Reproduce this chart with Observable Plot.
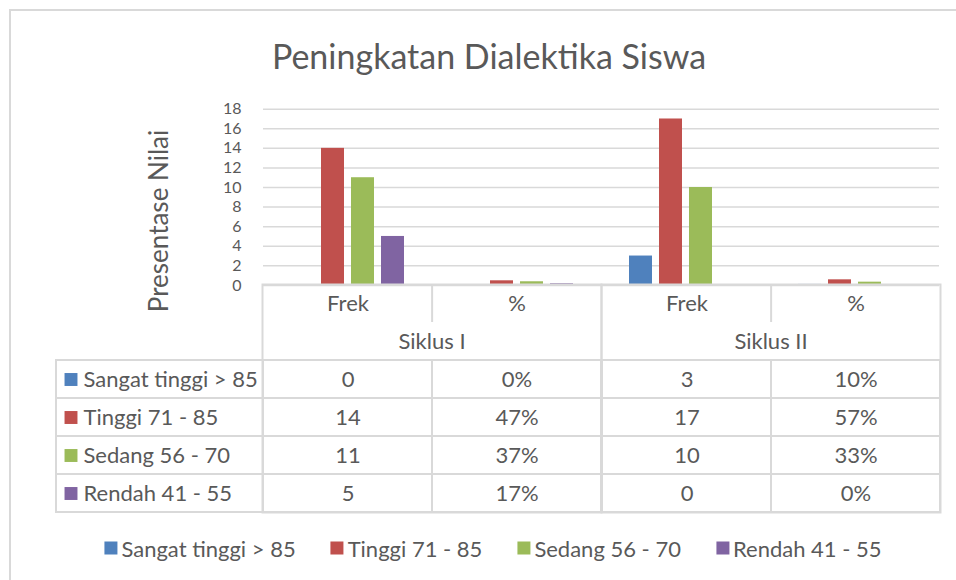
<!DOCTYPE html>
<html><head><meta charset="utf-8">
<script src="https://cdn.jsdelivr.net/npm/d3@7"></script>
<script src="https://cdn.jsdelivr.net/npm/@observablehq/plot@0.6"></script>
<style>
body{margin:0;background:#fff;}
#wrap{position:relative;width:956px;height:580px;overflow:hidden;font-family:Lato,sans-serif;color:#595959;background:#fff;}
#border{position:absolute;left:9px;top:9px;right:-10px;bottom:-10px;border-left:2px solid #d9d9d9;border-top:2px solid #d9d9d9;}
#title{position:absolute;left:489px;top:55px;transform:translate(-50%,-50%);font-size:34px;white-space:nowrap;}
#ytitle{position:absolute;left:158px;top:221px;transform:translate(-50%,-50%) rotate(-90deg);font-size:26px;white-space:nowrap;}
#chart{position:absolute;left:0;top:90px;}
#table{position:absolute;left:0;top:282px;}
#legend{position:absolute;left:493px;top:548px;transform:translate(-50%,-50%);display:flex;gap:35px;font-size:22px;white-space:nowrap;}
#legend .it{display:flex;align-items:center;gap:4px;}
#legend .sw{width:13px;height:13px;display:inline-block;}
svg{overflow:visible;}
</style></head><body><div id="wrap">
<div id="border"></div>
<div id="title">Peningkatan Dialektika Siswa</div>
<div id="ytitle">Presentase Nilai</div>
<div id="chart"></div>
<div id="table"></div>
<div id="legend"></div>
</div>
<script>
const siklus = ["Siklus I", "Siklus II"];
const measures = ["Frek", "%"];
const series = ["Sangat tinggi > 85", "Tinggi 71 - 85", "Sedang 56 - 70", "Rendah 41 - 55"];
const colors = ["#4F81BD", "#C0504D", "#9BBB59", "#8064A2"];
const frekSiklusI = [0, 14, 11, 5];
const pctSiklusI = [0, 47, 37, 17];
const frekSiklusII = [3, 17, 10, 0];
const pctSiklusII = [10, 57, 33, 0];
const yTicks = [0, 2, 4, 6, 8, 10, 12, 14, 16, 18];

const W = 956, left = 261, right = 940;
const grid = "#d9d9d9";
const font = {fontFamily: "Lato, sans-serif", fontSize: "22px", color: "#595959", background: "transparent", overflow: "visible"};

const rows = [];
siklus.forEach((s, si) => {
  const frek = si === 0 ? frekSiklusI : frekSiklusII;
  const pct = si === 0 ? pctSiklusI : pctSiklusII;
  measures.forEach(m => series.forEach((k, ki) => {
    rows.push({siklus: s, measure: m, col: s + "|" + m, series: k,
      value: m === "Frek" ? frek[ki] : pct[ki] / 100,
      label: m === "Frek" ? String(frek[ki]) : pct[ki] + "%"});
  }));
});
const colKeys = [...new Set(rows.map(d => d.col))];

const chart = Plot.plot({
  width: W, height: 200,
  marginLeft: left, marginRight: W - right, marginTop: 18.7, marginBottom: 5.1,
  style: font,
  fx: {domain: colKeys, padding: 0, axis: null},
  x: {domain: series, paddingInner: 0.2258, paddingOuter: 0.85, axis: null},
  y: {domain: [0, 18]},
  color: {domain: series, range: colors},
  marks: [
    Plot.gridY(yTicks, {stroke: grid, strokeOpacity: 1, strokeWidth: 1.5}),
    Plot.axisY(yTicks, {tickSize: 0, tickPadding: 22, label: null, fontSize: 16}),
    Plot.barY(rows, {fx: "col", x: "series", y: "value", fill: "series"})
  ]
});
document.getElementById("chart").appendChild(chart);

const bw = (right - left) / 4;
const hdr = [];
siklus.forEach(s => measures.forEach(m => hdr.push({siklus: s, measure: m})));
const table = Plot.plot({
  width: W, height: 232,
  marginLeft: left, marginRight: W - right, marginTop: 2, marginBottom: 2,
  style: font,
  fx: {domain: siklus, padding: 0, axis: null},
  x: {domain: measures, padding: 0, axis: null},
  y: {domain: ["h1", "h2", ...series], padding: 0, axis: null},
  marks: [
    Plot.cell(rows, {fx: "siklus", x: "measure", y: "series", fill: "none", stroke: grid, strokeWidth: 2}),
    Plot.cell(series, {fx: () => "Siklus I", x: () => "Frek", y: d => d, fill: "none", stroke: grid, strokeWidth: 2, insetLeft: -(left - 54)}),
    Plot.frame({stroke: grid, strokeWidth: 2}),
    Plot.tickX(siklus, {fx: d => d, x: () => "%", y: () => "h1", dx: -bw / 2, stroke: grid, strokeWidth: 2}),
    Plot.text(hdr, {fx: "siklus", x: "measure", y: () => "h1", text: "measure"}),
    Plot.text(siklus, {fx: d => d, y: () => "h2", text: d => d}),
    Plot.text(rows, {fx: "siklus", x: "measure", y: "series", text: "label"}),
    Plot.text(series, {fx: () => "Siklus I", y: d => d, text: d => d, frameAnchor: "left", textAnchor: "start", dx: -(left - 82)}),
    Plot.dot(series, {fx: () => "Siklus I", y: d => d, frameAnchor: "left", dx: -(left - 69.5), symbol: "square", r: 7.3, fill: (d, i) => colors[i], stroke: "none"})
  ]
});
document.getElementById("table").appendChild(table);

const lg = document.getElementById("legend");
series.forEach((s, i) => {
  const it = document.createElement("div"); it.className = "it";
  const sw = document.createElement("span"); sw.className = "sw"; sw.style.background = colors[i];
  const tx = document.createElement("span"); tx.textContent = s;
  it.appendChild(sw); it.appendChild(tx); lg.appendChild(it);
});
</script>
</body></html>
